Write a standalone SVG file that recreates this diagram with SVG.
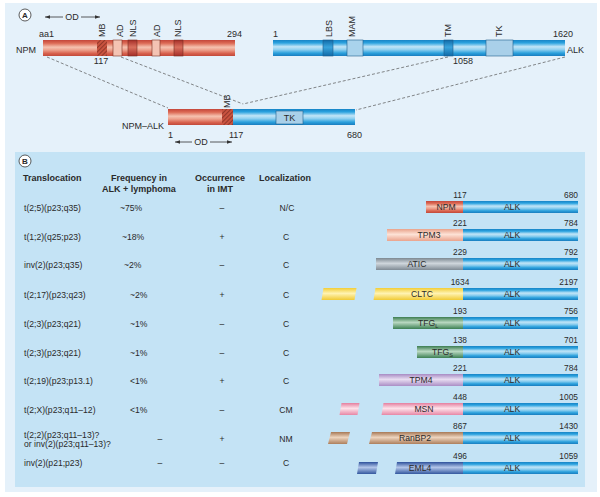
<svg xmlns="http://www.w3.org/2000/svg" width="600" height="497" viewBox="0 0 600 497">
<defs>
<style>
.t{font-family:"Liberation Sans",Arial,Helvetica,sans-serif;fill:#2a2a2a;}
.a9{font-size:9px;}
.h{font-size:9px;font-weight:bold;}
.b{font-size:8.6px;}
.n{font-size:8.4px;}
.mid{text-anchor:middle;}
.end{text-anchor:end;}
.dash{stroke:#555;stroke-width:0.7;stroke-dasharray:3 2;fill:none;}
.arr{stroke:#333;stroke-width:0.8;fill:none;}
.box{stroke:#7a2f24;stroke-width:0.6;}
.bbox{stroke:#1f5f8c;stroke-width:0.6;}
</style>
<linearGradient id="gAlk" x1="0" y1="0" x2="0" y2="1">
<stop offset="0" stop-color="#1784c6"/><stop offset="0.18" stop-color="#2aa2df"/><stop offset="0.42" stop-color="#c2e5f7"/><stop offset="0.6" stop-color="#8fd0f0"/><stop offset="0.82" stop-color="#2aa0dc"/><stop offset="1" stop-color="#1a7dbf"/>
</linearGradient>
<linearGradient id="gRed" x1="0" y1="0" x2="0" y2="1">
<stop offset="0" stop-color="#c4463a"/><stop offset="0.2" stop-color="#dc6a55"/><stop offset="0.45" stop-color="#f5c2b0"/><stop offset="0.62" stop-color="#eda18d"/><stop offset="0.84" stop-color="#d8614d"/><stop offset="1" stop-color="#c1493a"/>
</linearGradient>
<linearGradient id="gNls" x1="0" y1="0" x2="0" y2="1">
<stop offset="0" stop-color="#a52d27"/><stop offset="0.45" stop-color="#d9705e"/><stop offset="1" stop-color="#a52d27"/>
</linearGradient>
<linearGradient id="gDark" x1="0" y1="0" x2="0" y2="1">
<stop offset="0" stop-color="#0f6aa8"/><stop offset="0.45" stop-color="#3aa4dc"/><stop offset="1" stop-color="#0f6aa8"/>
</linearGradient>
<linearGradient id="gTpm3" x1="0" y1="0" x2="0" y2="1">
<stop offset="0" stop-color="#e9a28a"/><stop offset="0.45" stop-color="#fde2d6"/><stop offset="1" stop-color="#eaa38c"/>
</linearGradient>
<linearGradient id="gAtic" x1="0" y1="0" x2="0" y2="1">
<stop offset="0" stop-color="#7c8891"/><stop offset="0.45" stop-color="#cfd6dc"/><stop offset="1" stop-color="#7f8a94"/>
</linearGradient>
<linearGradient id="gCltc" x1="0" y1="0" x2="0" y2="1">
<stop offset="0" stop-color="#f2cd36"/><stop offset="0.45" stop-color="#fff3b2"/><stop offset="1" stop-color="#f0ca35"/>
</linearGradient>
<linearGradient id="gTfg" x1="0" y1="0" x2="0" y2="1">
<stop offset="0" stop-color="#3b7d51"/><stop offset="0.45" stop-color="#b9d8c1"/><stop offset="1" stop-color="#3c8053"/>
</linearGradient>
<linearGradient id="gTpm4" x1="0" y1="0" x2="0" y2="1">
<stop offset="0" stop-color="#a78bc3"/><stop offset="0.45" stop-color="#e8ddf1"/><stop offset="1" stop-color="#aa8ec5"/>
</linearGradient>
<linearGradient id="gMsn" x1="0" y1="0" x2="0" y2="1">
<stop offset="0" stop-color="#e47f9f"/><stop offset="0.45" stop-color="#fde2ea"/><stop offset="1" stop-color="#e787a5"/>
</linearGradient>
<linearGradient id="gRan" x1="0" y1="0" x2="0" y2="1">
<stop offset="0" stop-color="#a77956"/><stop offset="0.45" stop-color="#edd4be"/><stop offset="1" stop-color="#ad7f5c"/>
</linearGradient>
<linearGradient id="gEml" x1="0" y1="0" x2="0" y2="1">
<stop offset="0" stop-color="#2d519c"/><stop offset="0.45" stop-color="#b3c6e9"/><stop offset="1" stop-color="#33579f"/>
</linearGradient>
<pattern id="hatch" width="3" height="3" patternUnits="userSpaceOnUse" patternTransform="rotate(45)">
<rect width="3" height="3" fill="#c9533f"/>
<line x1="0" y1="0" x2="0" y2="3" stroke="#6e231b" stroke-width="1.2"/>
</pattern>
<marker id="ah" viewBox="0 0 6 6" refX="6" refY="3" markerWidth="5" markerHeight="5" orient="auto" markerUnits="userSpaceOnUse">
<path d="M0,0.8 L6,3 L0,5.2 Z" fill="#333"/>
</marker>
</defs>

<!-- backgrounds -->
<rect x="5" y="3" width="592" height="489" fill="#e5f1fa"/>
<rect x="15" y="152" width="570" height="335" fill="#c4e3f5"/>

<!-- panel labels -->
<g id="labelA">
<circle cx="25" cy="15" r="6" fill="#fff" stroke="#333" stroke-width="0.8"/>
<text class="t" x="25" y="18" font-size="8" font-weight="bold" text-anchor="middle">A</text>
</g>
<g id="labelB">
<circle cx="25" cy="161" r="6" fill="#fff" stroke="#333" stroke-width="0.8"/>
<text class="t" x="25" y="164" font-size="8" font-weight="bold" text-anchor="middle">B</text>
</g>

<!-- connectors -->
<g id="connectors">
<path class="dash" d="M47,57 L168,108"/>
<path class="dash" d="M121,57 L243,104"/>
<path class="dash" d="M448,57 L243,104"/>
<path class="dash" d="M565,57 L356,110"/>
<path class="arr" d="M63,17 L45,17" marker-end="url(#ah)"/>
<path class="arr" d="M81,17 L100,17" marker-end="url(#ah)"/>
<path class="arr" d="M192,142 L175,142" marker-end="url(#ah)"/>
<path class="arr" d="M210,142 L232,142" marker-end="url(#ah)"/>
</g>
<text class="t a9 mid" x="72" y="20">OD</text>
<text class="t a9 mid" x="201" y="145">OD</text>

<!-- NPM -->
<g id="npm">
<rect x="43" y="40" width="192" height="16" fill="url(#gRed)"/>
<rect x="97" y="40" width="10" height="16" fill="url(#hatch)"/>
<rect x="113" y="40" width="9" height="16" fill="#f4c3b3" class="box"/>
<rect x="128" y="40" width="9" height="16" fill="url(#gNls)" class="box"/>
<rect x="152" y="40" width="8" height="16" fill="#f4c3b3" class="box"/>
<rect x="174" y="40" width="9" height="16" fill="url(#gNls)" class="box"/>
<text class="t a9" x="16" y="53">NPM</text>
<text class="t a9" x="39" y="37">aa1</text>
<text class="t a9" x="227" y="37">294</text>
<text class="t a9 mid" x="101" y="64">117</text>
<text class="t a9" transform="translate(105.2,37) rotate(-90)">MB</text>
<text class="t a9" transform="translate(123.2,37) rotate(-90)">AD</text>
<text class="t a9" transform="translate(136.2,37) rotate(-90)">NLS</text>
<text class="t a9" transform="translate(160.2,37) rotate(-90)">AD</text>
<text class="t a9" transform="translate(181.2,37) rotate(-90)">NLS</text>
</g>

<!-- ALK -->
<g id="alk">
<rect x="273" y="40" width="292" height="16" fill="url(#gAlk)"/>
<rect x="323" y="40" width="10" height="16" fill="url(#gDark)" class="bbox"/>
<rect x="347" y="40" width="16" height="16" fill="#a9d3ec" class="bbox"/>
<rect x="444" y="40" width="9" height="16" fill="url(#gDark)" class="bbox"/>
<rect x="486" y="40" width="27" height="16" fill="#a9d0e9" class="bbox"/>
<text class="t a9" x="273" y="37">1</text>
<text class="t a9" x="553" y="37">1620</text>
<text class="t a9" x="567" y="53">ALK</text>
<text class="t a9 mid" x="463" y="64">1058</text>
<text class="t a9" transform="translate(332.2,37) rotate(-90)">LBS</text>
<text class="t a9" transform="translate(355.2,37) rotate(-90)">MAM</text>
<text class="t a9" transform="translate(451.2,37) rotate(-90)">TM</text>
<text class="t a9" transform="translate(502.2,37) rotate(-90)">TK</text>
</g>

<!-- NPM-ALK -->
<g id="npm-alk">
<rect x="168" y="109" width="66" height="16" fill="url(#gRed)"/>
<rect x="222" y="109" width="11" height="16" fill="url(#hatch)"/>
<rect x="233" y="109" width="122" height="16" fill="url(#gAlk)"/>
<rect x="276" y="111" width="27" height="13" fill="#a9d0e9" class="bbox"/>
<text class="t a9 mid" x="289.5" y="121">TK</text>
<text class="t a9" transform="translate(229.6,108) rotate(-90)">MB</text>
<text class="t a9" x="122" y="129">NPM–ALK</text>
<text class="t a9" x="168" y="138">1</text>
<text class="t a9" x="229" y="138">117</text>
<text class="t a9" x="347" y="138">680</text>
</g>

<!-- table header -->
<g id="header">
<text class="t h" x="23" y="181">Translocation</text>
<text class="t h mid" x="139" y="181">Frequency in</text>
<text class="t h mid" x="139" y="192">ALK + lymphoma</text>
<text class="t h mid" x="220" y="181">Occurrence</text>
<text class="t h mid" x="220" y="192">in IMT</text>
<text class="t h mid" x="285" y="181">Localization</text>
</g>

<!-- rows -->
<g id="row1">
<text class="t b" x="24" y="211">t(2;5)(p23;q35)</text>
<text class="t b" x="120" y="211">~75%</text>
<text class="t b mid" x="222" y="211">–</text>
<text class="t b mid" x="287" y="211">N/C</text>
<rect x="426" y="201" width="38" height="12" fill="url(#gRed)"/>
<rect x="463" y="201" width="115" height="12" fill="url(#gAlk)"/>
<text class="t b mid" x="446" y="210">NPM</text>
<text class="t b mid" x="512" y="210">ALK</text>
<text class="t n mid" x="460" y="198">117</text>
<text class="t n end" x="578" y="198">680</text>
</g>
<g id="row2">
<text class="t b" x="24" y="240">t(1;2)(q25;p23)</text>
<text class="t b" x="122" y="240">~18%</text>
<text class="t b mid" x="222" y="240">+</text>
<text class="t b mid" x="286" y="240">C</text>
<rect x="387" y="229" width="77" height="12" fill="url(#gTpm3)"/>
<rect x="463" y="229" width="115" height="12" fill="url(#gAlk)"/>
<text class="t b mid" x="429" y="238">TPM3</text>
<text class="t b mid" x="512" y="238">ALK</text>
<text class="t n mid" x="460" y="226">221</text>
<text class="t n end" x="578" y="226">784</text>
</g>
<g id="row3">
<text class="t b" x="24" y="268">inv(2)(p23;q35)</text>
<text class="t b" x="124" y="268">~2%</text>
<text class="t b mid" x="222" y="268">–</text>
<text class="t b mid" x="286" y="268">C</text>
<rect x="376" y="258" width="88" height="12" fill="url(#gAtic)"/>
<rect x="463" y="258" width="115" height="12" fill="url(#gAlk)"/>
<text class="t b mid" x="417" y="267">ATIC</text>
<text class="t b mid" x="512" y="267">ALK</text>
<text class="t n mid" x="460" y="255">229</text>
<text class="t n end" x="578" y="255">792</text>
</g>
<g id="row4">
<text class="t b" x="24" y="298">t(2;17)(p23;q23)</text>
<text class="t b" x="130" y="298">~2%</text>
<text class="t b mid" x="222" y="298">+</text>
<text class="t b mid" x="286" y="298">C</text>
<polygon points="323.5,288 356.5,288 354.5,300 321.5,300" fill="url(#gCltc)"/>
<polygon points="375.5,288 464,288 464,300 373.5,300" fill="url(#gCltc)"/>
<rect x="463" y="288" width="115" height="12" fill="url(#gAlk)"/>
<text class="t b mid" x="422" y="297">CLTC</text>
<text class="t b mid" x="512" y="297">ALK</text>
<text class="t n mid" x="460" y="285">1634</text>
<text class="t n end" x="578" y="285">2197</text>
</g>
<g id="row5">
<text class="t b" x="24" y="327">t(2;3)(p23;q21)</text>
<text class="t b" x="130" y="327">~1%</text>
<text class="t b mid" x="222" y="327">–</text>
<text class="t b mid" x="286" y="327">C</text>
<rect x="393" y="317" width="71" height="12" fill="url(#gTfg)"/>
<rect x="463" y="317" width="115" height="12" fill="url(#gAlk)"/>
<text class="t b" x="418" y="326">TFG<tspan font-size="5.5" dy="2">L</tspan></text>
<text class="t b mid" x="512" y="326">ALK</text>
<text class="t n mid" x="460" y="314">193</text>
<text class="t n end" x="578" y="314">756</text>
</g>
<g id="row6">
<text class="t b" x="24" y="356">t(2;3)(p23;q21)</text>
<text class="t b" x="130" y="356">~1%</text>
<text class="t b mid" x="222" y="356">–</text>
<text class="t b mid" x="286" y="356">C</text>
<rect x="417" y="346" width="47" height="12" fill="url(#gTfg)"/>
<rect x="463" y="346" width="115" height="12" fill="url(#gAlk)"/>
<text class="t b" x="432" y="355">TFG<tspan font-size="5.5" dy="2">S</tspan></text>
<text class="t b mid" x="512" y="355">ALK</text>
<text class="t n mid" x="460" y="343">138</text>
<text class="t n end" x="578" y="343">701</text>
</g>
<g id="row7">
<text class="t b" x="24" y="384">t(2;19)(p23;p13.1)</text>
<text class="t b" x="130" y="384">&lt;1%</text>
<text class="t b mid" x="222" y="384">+</text>
<text class="t b mid" x="286" y="384">C</text>
<rect x="379" y="374" width="85" height="12" fill="url(#gTpm4)"/>
<rect x="463" y="374" width="115" height="12" fill="url(#gAlk)"/>
<text class="t b mid" x="421" y="383">TPM4</text>
<text class="t b mid" x="512" y="383">ALK</text>
<text class="t n mid" x="460" y="371">221</text>
<text class="t n end" x="578" y="371">784</text>
</g>
<g id="row8">
<text class="t b" x="24" y="413">t(2;X)(p23;q11–12)</text>
<text class="t b" x="130" y="413">&lt;1%</text>
<text class="t b mid" x="222" y="413">–</text>
<text class="t b mid" x="286" y="413">CM</text>
<polygon points="341.5,403 359.5,403 357.5,415 339.5,415" fill="url(#gMsn)"/>
<polygon points="383.5,403 464,403 464,415 381.5,415" fill="url(#gMsn)"/>
<rect x="463" y="403" width="115" height="12" fill="url(#gAlk)"/>
<text class="t b mid" x="424" y="412">MSN</text>
<text class="t b mid" x="512" y="412">ALK</text>
<text class="t n mid" x="460" y="400">448</text>
<text class="t n end" x="578" y="400">1005</text>
</g>
<g id="row9">
<text class="t b" x="24" y="438">t(2;2)(p23;q11–13)?</text>
<text class="t b" x="24" y="447">or inv(2)(p23;q11–13)?</text>
<text class="t b mid" x="160" y="442">–</text>
<text class="t b mid" x="222" y="442">+</text>
<text class="t b mid" x="286" y="442">NM</text>
<polygon points="331,432 350,432 347,444 328,444" fill="url(#gRan)"/>
<polygon points="372,432 464,432 464,444 369,444" fill="url(#gRan)"/>
<rect x="463" y="432" width="115" height="12" fill="url(#gAlk)"/>
<text class="t b mid" x="415" y="441">RanBP2</text>
<text class="t b mid" x="512" y="441">ALK</text>
<text class="t n mid" x="460" y="429">867</text>
<text class="t n end" x="578" y="429">1430</text>
</g>
<g id="row10">
<text class="t b" x="24" y="466">inv(2)(p21;p23)</text>
<text class="t b mid" x="160" y="466">–</text>
<text class="t b mid" x="222" y="466">–</text>
<text class="t b mid" x="286" y="466">C</text>
<polygon points="359,462 378,462 376,474 357,474" fill="url(#gEml)"/>
<polygon points="397,462 464,462 464,474 395,474" fill="url(#gEml)"/>
<rect x="463" y="462" width="115" height="12" fill="url(#gAlk)"/>
<text class="t b mid" x="420" y="471">EML4</text>
<text class="t b mid" x="512" y="471">ALK</text>
<text class="t n mid" x="460" y="459">496</text>
<text class="t n end" x="578" y="459">1059</text>
</g>
</svg>
